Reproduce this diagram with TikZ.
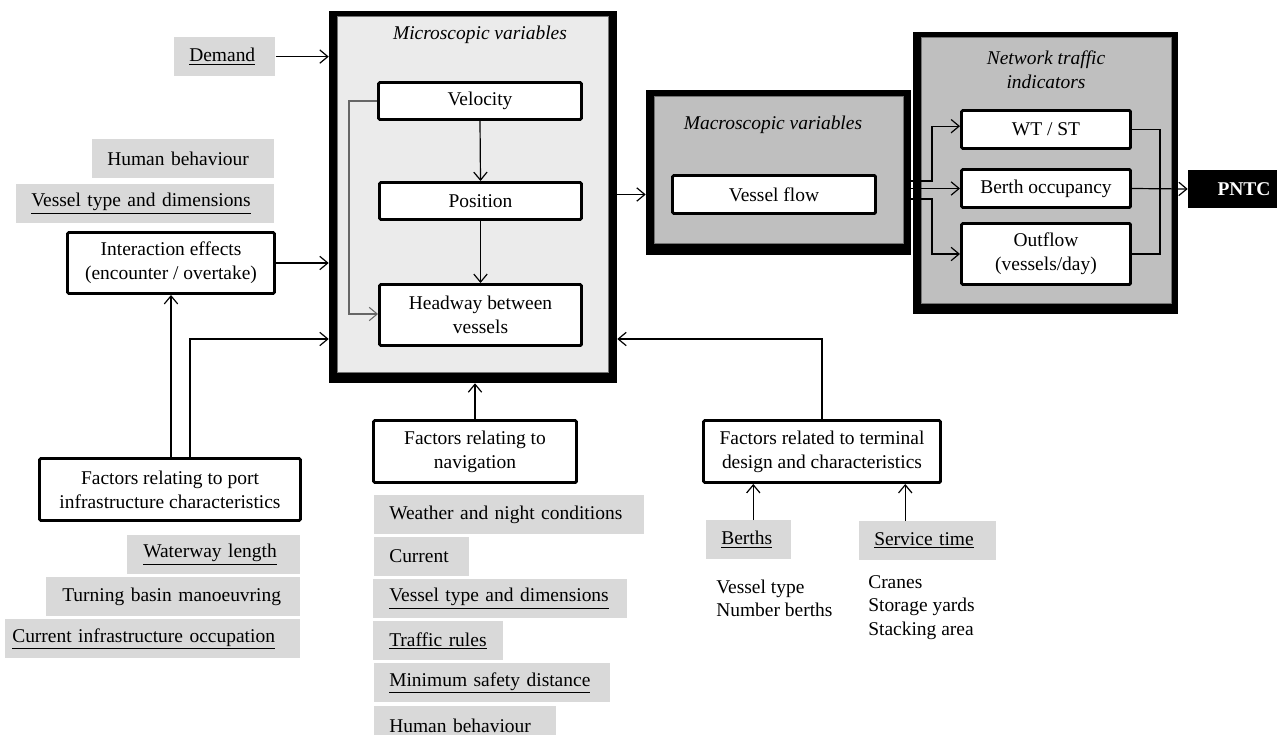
\documentclass[tikz,border=0pt]{standalone}
\usepackage{fontspec}
\setmainfont{Liberation Serif}
\usetikzlibrary{arrows.meta}
\definecolor{gbg}{HTML}{D9D9D9}
\definecolor{lbg}{HTML}{EBEBEB}
\definecolor{mbg}{HTML}{BFBFBF}
\tikzset{
  every node/.style={font=\fontsize{14.6}{18}\selectfont},
  it/.style={font=\fontsize{14.6}{18}\selectfont\itshape},
  sz/.style 2 args={minimum width=#1*0.75pt, minimum height=#2*0.75pt},
  tb/.style={draw, line width=2.2pt, fill=white, rounded corners=1pt, align=center, inner sep=0pt},
  ob/.style={fill=black, inner sep=0pt},
  ib/.style={draw=black!55, line width=0.5pt, inner sep=0pt},
  gb/.style 2 args={fill=gbg, anchor=north west, align=left, inner ysep=0pt, minimum height=29pt, inner xsep=#1, text width=#2},
  note/.style={align=left, anchor=west, inner sep=0pt, font=\fontsize{14.6}{17.6}\selectfont},
  arr/.style={-{Straight Barb[length=6pt,width=10pt]}, line width=0.9pt},
  garr/.style={-{Straight Barb[length=6pt,width=10pt]}, line width=0.8pt, draw=black!60},
  ln/.style={line width=0.9pt}
}
\begin{document}
\begin{tikzpicture}[x=0.75pt,y=-0.75pt]
\useasboundingbox (0,0) rectangle (1278,735);
\clip (0,0) rectangle (1278,735);

% container boxes (black frame + inner panel)
\node[ob, sz={288}{372}] (micro) at (473,197) {};
\node[ib, fill=lbg, sz={271}{356}] (microin) at (472.5,194) {};
\node[ob, sz={265}{165}] (macro) at (778.5,172.5) {};
\node[ib, fill=mbg, sz={249}{147}] (macroin) at (778.5,169.5) {};
\node[ob, sz={265}{282}] (net) at (1045.5,173) {};
\node[ib, fill=mbg, sz={250}{266}] (netin) at (1046,170) {};
\node[fill=black, inner sep=0pt, sz={89}{38}] (pntc) at (1232.5,189) {};
\node[text=white, font=\fontsize{14.6}{18}\selectfont\bfseries] (pntct) at (1244,189) {PNTC};

% titles
\node[it] (mtitle) at (480,35) {Microscopic variables};
\node[it] (matitle) at (773,125) {Macroscopic variables};
\node[it, align=center] (ntitle) at (1046,69.5) {Network traffic\\indicators};

% boxes
\node[tb, sz={203}{37}] (vel) at (480,101) {Velocity};
\node[tb, sz={202}{37}] (pos) at (480.5,201) {Position};
\node[tb, sz={202}{61}] (head) at (480.5,315) {Headway between\\vessels};
\node[tb, sz={203}{38}] (vflow) at (774,194.5) {Vessel flow};
\node[tb, sz={169}{38}] (wt) at (1046,129.5) {WT / ST};
\node[tb, sz={169}{38}] (bo) at (1046,188.5) {Berth occupancy};
\node[tb, sz={169}{61}] (out) at (1046,254) {Outflow\\(vessels/day)};
\node[tb, sz={207}{61}] (inter) at (171,263) {Interaction effects\\(encounter / overtake)};
\node[tb, sz={261}{62}] (port) at (170,489.5) {Factors relating to port\\infrastructure characteristics};
\node[tb, sz={203}{62}] (nav) at (475,451.5) {Factors relating to\\navigation};
\node[tb, sz={237}{62}] (term) at (822,451.5) {Factors related to terminal\\design and characteristics};

% grey factor boxes
\node[gb={11.25pt}{53.25pt}] (demand) at (174,37) {\mbox{\underline{Demand}}};
\node[gb={11.25pt}{114pt}] (hb1) at (92,139) {\mbox{Human behaviour}};
\node[gb={11.25pt}{171pt}] (vtd1) at (16,184) {\mbox{\underline{Vessel type and dimensions}}};
\node[gb={12pt}{105.75pt}] (wl) at (127,535) {\mbox{\underline{Waterway length}}};
\node[gb={12pt}{166.5pt}] (tbm) at (46,577) {\mbox{Turning basin manoeuvring}};
\node[gb={5.25pt}{210.75pt}] (cio) at (5,619) {\mbox{\underline{Current infrastructure occupation}}};
\node[gb={11.25pt}{180pt}] (wnc) at (374,495) {\mbox{Weather and night conditions}};
\node[gb={11.25pt}{48.75pt}] (cur) at (374,537) {\mbox{Current}};
\node[gb={12pt}{166.5pt}] (vtd2) at (373,579) {\mbox{\underline{Vessel type and dimensions}}};
\node[gb={12pt}{73.5pt}] (tr) at (373,621) {\mbox{\underline{Traffic rules}}};
\node[gb={11.25pt}{154.5pt}] (msd) at (374,663) {\mbox{\underline{Minimum safety distance}}};
\node[gb={11.25pt}{114pt}] (hb2) at (374,706) {\mbox{Human behaviour}};
\node[gb={11.25pt}{41.25pt}] (berths) at (706,520) {\mbox{\underline{Berths}}};
\node[gb={11.25pt}{80.25pt}] (st) at (859,521) {\mbox{\underline{Service time}}};

% notes
\node[note] (bnote) at (716,598.5) {Vessel type\\Number berths};
\node[note] (snote) at (868,607.5) {Cranes\\Storage yards\\Stacking area};

% connectors
\draw[arr] (demand.east) -- (demand.east -| micro.west);
\draw[arr] (inter.east) -- (inter.east -| micro.west);
\draw[arr] (port.north -| inter.south) -- (inter.south);
\coordinate (pk) at (190,339);
\draw[arr] (port.north -| pk) -- (pk) -- (pk -| micro.west);
\draw[arr] (nav.north) -- (nav.north |- micro.south);
\coordinate (tk) at (822,339);
\draw[arr] (term.north) -- (tk) -- (tk -| micro.east);
\coordinate (bk) at ([xshift=3.4pt]berths.north);
\draw[arr] (bk) -- (bk |- term.south);
\coordinate (sk) at ([xshift=-16.9pt]st.north);
\draw[arr] (sk) -- (sk |- term.south);
\draw[arr] (vel.south) -- (pos.north);
\draw[arr] (pos.south) -- (head.north);
\coordinate (lp) at (349,314);
\draw[garr] (vel.west) -| (lp) -- (lp -| head.west);
\draw[arr] (micro.east |- vflow) -- (macro.west |- vflow);
\coordinate (m1) at ([yshift=-6.4pt]macro.east);
\coordinate (m2) at (macro.east |- bo.west);
\coordinate (m3) at ([yshift=-19.9pt]macro.east);
\coordinate (br) at (932,189);
\draw[arr] (m1) -- (m1 -| br) |- ([yshift=2.5pt]wt.west);
\draw[arr] (m2) -- (bo.west);
\draw[arr] (m3) -- (m3 -| br) |- (out.west);
\coordinate (cx) at (1160,189);
\draw[ln] (wt.east) -| (cx) |- (out.east);
\draw[arr] (bo.east) -- (pntc.west);
\end{tikzpicture}
\end{document}
